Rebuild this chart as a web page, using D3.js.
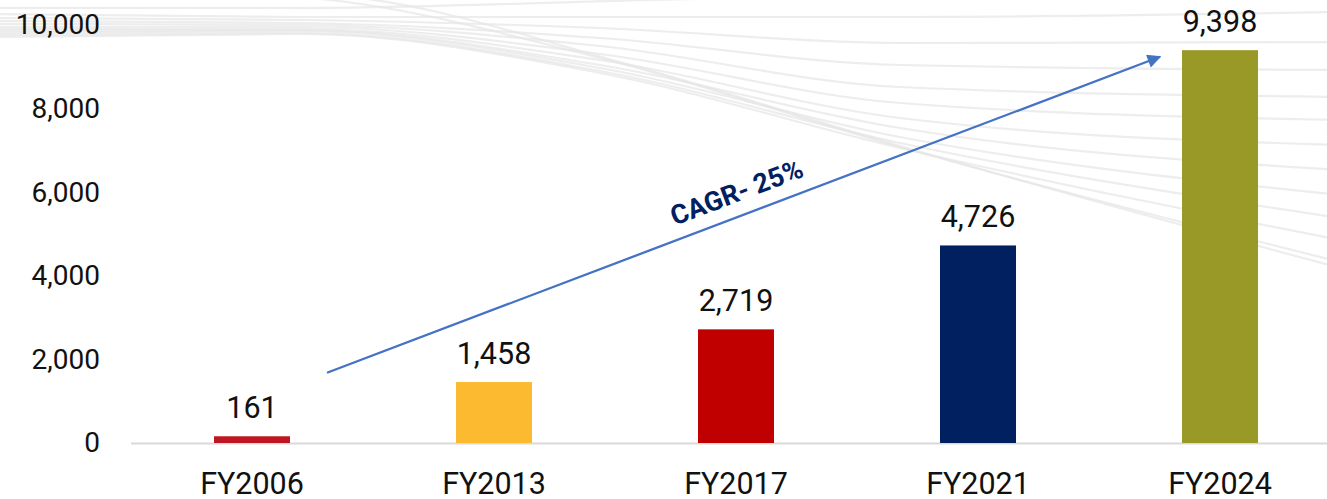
<!DOCTYPE html>
<html>
<head>
<meta charset="utf-8">
<script src="https://cdn.jsdelivr.net/npm/d3@7"></script>
<style>
  body { margin: 0; background: #fff; }
  svg { display: block; font-family: Roboto, "Noto Sans", sans-serif; }
</style>
</head>
<body>
<div class="svg-container"></div>
<script>
// chart data
const years = ['FY2006', 'FY2013', 'FY2017', 'FY2021', 'FY2024'];
const values = [161, 1458, 2719, 4726, 9398];
const barColours = ['#BE1622', '#FBBA2F', '#C00000', '#002060', '#999928'];
const yTicks = [0, 2000, 4000, 6000, 8000, 10000];
const cagrLabel = 'CAGR- 25%';
// arrow ends, in data units (value axis)
const arrowValues = [1680, 9240];

const width = 1327;
const height = 499;
const margin = { top: 25, right: -14, bottom: 56, left: 131 };

const svg = d3.select('.svg-container')
  .append('svg')
  .attr('width', width)
  .attr('height', height);

// decorative swoosh lines in the background
const swooshes = [
  [[-20, 8], [300, 8], [650, 0], [1000, -8]],
  [[-20, 14], [300, 17], [900, 17], [1340, 12]],
  [[-20, 18], [300, 20], [600, 28], [900, 43], [1340, 42]],
  [[-20, 21], [300, 23], [600, 38], [900, 65], [1340, 70]],
  [[-20, 24], [300, 25], [600, 46], [900, 87], [1340, 97]],
  [[-20, 27], [300, 27], [600, 54], [900, 103], [1340, 120]],
  [[-20, 29], [300, 29], [600, 60], [900, 118], [1340, 145]],
  [[-20, 31], [300, 30], [600, 65], [900, 128], [1340, 170]],
  [[-20, 33], [300, 31], [600, 68], [900, 137], [1340, 195]],
  [[-20, 35], [300, 33], [600, 71], [900, 143], [1340, 218]],
  [[-20, 37], [300, 34], [600, 73], [900, 148], [1340, 240]],
  [[200, -8], [330, 0], [600, 58], [900, 147], [1340, 262]],
  [[250, -10], [360, -2], [620, 62], [900, 146], [1340, 268]]
];

const swooshLine = d3.line().curve(d3.curveMonotoneX);

svg.append('g')
  .attr('class', 'swooshes')
  .selectAll('path')
  .data(swooshes)
  .enter()
  .append('path')
  .attr('d', d => swooshLine(d))
  .attr('fill', 'none')
  .attr('stroke', '#e6e6e6')
  .attr('stroke-width', 2.2)
  .attr('opacity', 0.7);

// scales
const x = d3.scaleBand()
  .domain(years)
  .range([margin.left, width - margin.right])
  .paddingInner(0.686)
  .paddingOuter(0.343);

const y = d3.scaleLinear()
  .domain([0, 10000])
  .range([height - margin.bottom, margin.top]);

const fmt = d3.format(',');

// y axis labels only (no line, no ticks)
const yAxis = svg.append('g')
  .attr('transform', 'translate(100,0)')
  .call(d3.axisLeft(y).tickValues(yTicks).tickFormat(fmt).tickSize(0).tickPadding(0));
yAxis.select('.domain').remove();
yAxis.selectAll('text')
  .attr('font-family', 'Roboto, sans-serif')
  .attr('font-size', 28)
  .attr('fill', '#111');

// baseline
svg.append('line')
  .attr('x1', margin.left)
  .attr('x2', width)
  .attr('y1', y(0) + 0.5)
  .attr('y2', y(0) + 0.5)
  .attr('stroke', '#d9d9d9')
  .attr('stroke-width', 2);

// bars
svg.selectAll('rect.bar')
  .data(values)
  .enter()
  .append('rect')
  .attr('class', 'bar')
  .attr('x', (d, i) => x(years[i]))
  .attr('y', d => y(d))
  .attr('width', x.bandwidth())
  .attr('height', d => y(0) - y(d))
  .attr('fill', (d, i) => barColours[i]);

// value labels
svg.selectAll('text.value')
  .data(values)
  .enter()
  .append('text')
  .attr('class', 'value')
  .attr('x', (d, i) => x(years[i]) + x.bandwidth() / 2)
  .attr('y', d => y(d) - 18)
  .attr('text-anchor', 'middle')
  .attr('font-size', 30.5)
  .attr('fill', '#111')
  .text(d => fmt(d));

// x axis labels
const xAxis = svg.append('g')
  .attr('transform', `translate(0,${y(0)})`)
  .call(d3.axisBottom(x).tickSize(0).tickPadding(0));
xAxis.select('.domain').remove();
xAxis.selectAll('text')
  .attr('font-family', 'Roboto, sans-serif')
  .attr('font-size', 30.5)
  .attr('fill', '#111')
  .attr('dy', null)
  .attr('y', 51);

// CAGR arrow from first bar towards last bar
const arrowStart = [x(years[0]) + x.bandwidth() + 37, y(arrowValues[0])];
const arrowEnd = [x(years[4]) - 22, y(arrowValues[1])];

svg.append('defs')
  .append('marker')
  .attr('id', 'arrowhead')
  .attr('viewBox', '0 0 10 10')
  .attr('refX', 9)
  .attr('refY', 5)
  .attr('markerWidth', 6.5)
  .attr('markerHeight', 6)
  .attr('orient', 'auto')
  .append('path')
  .attr('d', 'M0,0 L10,5 L0,10 Z')
  .attr('fill', '#4472C4');

svg.append('line')
  .attr('x1', arrowStart[0])
  .attr('y1', arrowStart[1])
  .attr('x2', arrowEnd[0])
  .attr('y2', arrowEnd[1])
  .attr('stroke', '#4472C4')
  .attr('stroke-width', 2.3)
  .attr('marker-end', 'url(#arrowhead)');

const angle = Math.atan2(arrowEnd[1] - arrowStart[1], arrowEnd[0] - arrowStart[0]) * 180 / Math.PI;

svg.append('text')
  .attr('transform', `translate(740,201) rotate(${angle})`)
  .attr('text-anchor', 'middle')
  .attr('font-size', 27)
  .attr('font-weight', 'bold')
  .attr('fill', '#002060')
  .text(cagrLabel);
</script>
</body>
</html>
